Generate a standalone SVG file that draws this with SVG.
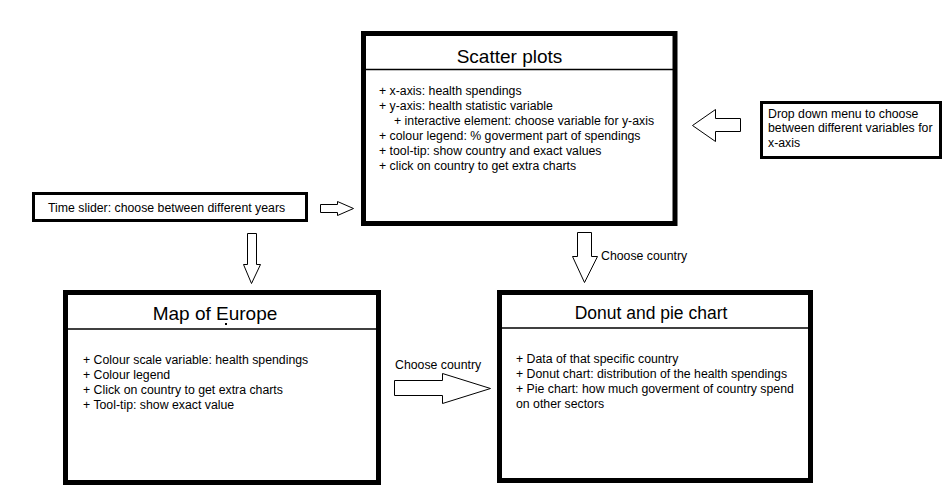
<svg xmlns="http://www.w3.org/2000/svg" width="949" height="494" viewBox="0 0 949 494">
<style>
.box{fill:#fff;stroke:#000;stroke-width:5}
.sbox{fill:#fff;stroke:#000;stroke-width:3}
.div{stroke:#000;stroke-width:1.5}
.title{font-family:"Liberation Sans",Arial,sans-serif;font-size:19px;fill:#000;text-anchor:middle}
.t{font-family:"Liberation Sans",Arial,sans-serif;font-size:12.3px;fill:#000}
.arr{fill:#fff;stroke:#000;stroke-width:1}
</style>
<rect width="949" height="494" fill="#fff"/>
<g id="scatter">
<rect class="box" x="363.5" y="33.5" width="311.5" height="190"/>
<line class="div" x1="366" y1="69.5" x2="673" y2="69.5"/>
<text class="title" x="509.5" y="63">Scatter plots</text>
<text class="t" x="379" y="95">+ x-axis: health spendings</text>
<text class="t" x="379" y="110">+ y-axis: health statistic variable</text>
<text class="t" x="394" y="125">+ interactive element: choose variable for y-axis</text>
<text class="t" x="379" y="140">+ colour legend: % goverment part of spendings</text>
<text class="t" x="379" y="155">+ tool-tip: show country and exact values</text>
<text class="t" x="379" y="170">+ click on country to get extra charts</text>
</g>
<g id="timeslider">
<rect class="sbox" x="33.5" y="193.5" width="273" height="27"/>
<text class="t" x="48" y="212">Time slider: choose between different years</text>
</g>
<g id="dropdown">
<rect class="sbox" x="761.5" y="102.5" width="179" height="55"/>
<text class="t" x="768" y="118">Drop down menu to choose</text>
<text class="t" x="768" y="132">between different variables for</text>
<text class="t" x="768" y="147">x-axis</text>
</g>
<g id="map">
<rect class="box" x="65.5" y="292.5" width="313" height="190"/>
<line class="div" x1="68" y1="329" x2="376" y2="329"/>
<text class="title" x="215" y="320">Map of Europe</text>
<rect x="225" y="323" width="2" height="2" fill="#000"/>
<text class="t" x="83" y="364">+ Colour scale variable: health spendings</text>
<text class="t" x="83" y="379">+ Colour legend</text>
<text class="t" x="83" y="394">+ Click on country to get extra charts</text>
<text class="t" x="83" y="409">+ Tool-tip: show exact value</text>
</g>
<g id="donut">
<rect class="box" x="499.5" y="292.5" width="311" height="188"/>
<line class="div" x1="502" y1="328" x2="808" y2="328"/>
<text class="title" x="651" y="319" style="font-size:17.5px">Donut and pie chart</text>
<text class="t" x="516" y="363">+ Data of that specific country</text>
<text class="t" x="516" y="378">+ Donut chart: distribution of the health spendings</text>
<text class="t" x="516" y="393">+ Pie chart: how much goverment of country spend</text>
<text class="t" x="516" y="408">on other sectors</text>
</g>
<g id="connectors">
<polygon class="arr" points="320.5,204.5 337.5,204.5 337.5,201.5 353.5,208.5 337.5,215.5 337.5,212.5 320.5,212.5"/>
<polygon class="arr" points="247.5,233.5 256.5,233.5 256.5,264.5 260.5,264.5 251.5,283.5 243.5,264.5 247.5,264.5"/>
<polygon class="arr" points="740.5,118.5 715.5,118.5 715.5,109.5 692.5,125.5 715.5,141.5 715.5,131.5 740.5,131.5"/>
<polygon class="arr" points="577.5,232.5 591.5,232.5 591.5,256.5 597.5,256.5 584.5,282.5 572.5,256.5 577.5,256.5"/>
<polygon class="arr" points="394.5,380.5 442.5,380.5 442.5,373.5 490.5,388.5 442.5,403.5 442.5,395.5 394.5,395.5"/>
<text class="t" x="601" y="260">Choose country</text>
<text class="t" x="395" y="369">Choose country</text>
</g>
</svg>
